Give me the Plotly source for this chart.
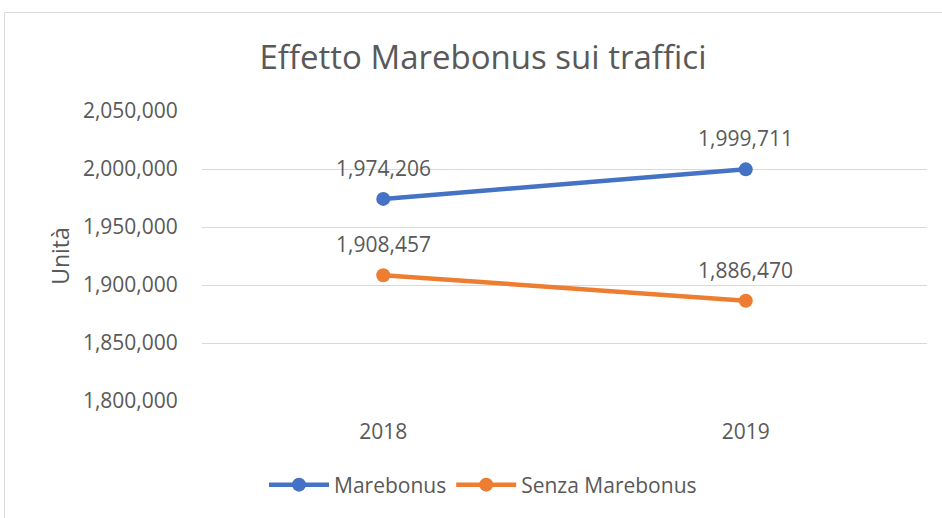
import plotly.graph_objects as go

years = ["2018", "2019"]
marebonus = [1974206, 1999711]
senza = [1908457, 1886470]
series_names = ["Marebonus", "Senza Marebonus"]
colors = ["#4472C4", "#ED7D31"]
title = "Effetto Marebonus sui traffici"
y_title = "Unità"

FONT = "Open Sans"
TXT = "#595959"
FS = 21

fig = go.Figure()
annotations = []
for name, vals, col in zip(series_names, [marebonus, senza], colors):
    fig.add_trace(go.Scatter(
        x=years, y=vals, name=name, mode="lines+markers",
        line=dict(color=col, width=4.5),
        marker=dict(color=col, size=14),
    ))
    for i, v in enumerate(vals):
        annotations.append(dict(
            x=i, y=v, xref="x", yref="y", text=f"{v:,}", showarrow=False,
            yshift=31, font=dict(family=FONT, size=FS, color=TXT),
        ))

fig.update_layout(
    width=942, height=518,
    margin=dict(l=202, r=15, t=111, b=117),
    paper_bgcolor="white", plot_bgcolor="white",
    title=dict(text=title, x=483 / 942, xanchor="center",
               y=1 - 57 / 518, yanchor="middle",
               font=dict(family=FONT, size=33, color=TXT)),
    font=dict(family=FONT, size=FS, color=TXT),
    showlegend=True,
    legend=dict(orientation="h", x=(483 - 202) / 725, xanchor="center",
                y=(401 - 485) / 290, yanchor="middle",
                font=dict(family=FONT, size=FS, color=TXT),
                itemwidth=60),
    annotations=annotations,
    shapes=[dict(type="rect", xref="paper", yref="paper",
                 x0=(4.5 - 202) / 725, x1=(960 - 202) / 725,
                 y0=(401 - 540) / 290, y1=(401 - 12.5) / 290,
                 line=dict(color="#D9D9D9", width=1), layer="below")],
)
fig.update_xaxes(type="category", range=[-0.5, 1.5], showgrid=False,
                 showline=False, ticks="outside", ticklen=12,
                 tickcolor="rgba(0,0,0,0)",
                 tickfont=dict(family=FONT, size=FS, color=TXT))
fig.update_yaxes(range=[1800000, 2050000], dtick=50000, tickformat=",",
                 showgrid=True, gridcolor="#D9D9D9", gridwidth=1,
                 zeroline=False, showline=False,
                 ticks="outside", ticklen=19, tickcolor="rgba(0,0,0,0)",
                 tickfont=dict(family=FONT, size=FS, color=TXT),
                 title=dict(text=y_title, standoff=6,
                            font=dict(family=FONT, size=23, color=TXT)))

fig.write_html("out.html")
